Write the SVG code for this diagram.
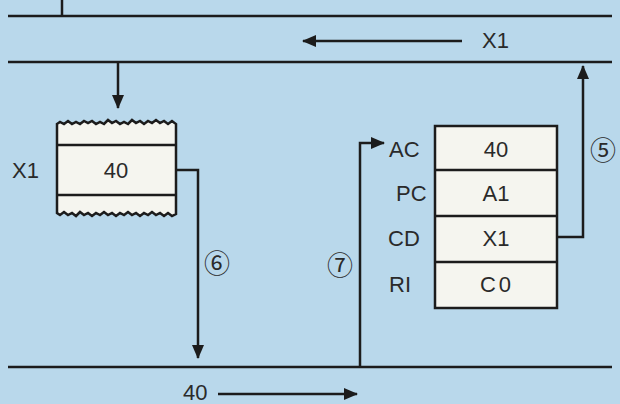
<svg xmlns="http://www.w3.org/2000/svg" width="620" height="404" viewBox="0 0 620 404">
<style>
.ln{stroke:#1c1c1c;stroke-width:2.5;fill:none}
.box{fill:#f5f5ef;stroke:#1c1c1c;stroke-width:2.5}
.t{font-family:"Liberation Sans",Arial,sans-serif;font-size:22px;fill:#2a2a2a}
.c{font-family:"Noto Sans CJK JP","DejaVu Sans",sans-serif;font-size:26px;fill:#2a2a2a}
</style>
<defs>
<marker id="ah" markerUnits="userSpaceOnUse" markerWidth="14" markerHeight="12" refX="13" refY="6" orient="auto">
<path d="M0,0 L14,6 L0,12 Z" fill="#1c1c1c"/>
</marker>
</defs>
<rect width="620" height="404" fill="#b9d8eb"/>
<g id="buses">
<line class="ln" x1="8" y1="16" x2="612" y2="16"/>
<line class="ln" x1="62" y1="0" x2="62" y2="16"/>
<line class="ln" x1="8" y1="62" x2="612" y2="62"/>
<line class="ln" x1="8" y1="367" x2="612" y2="367"/>
</g>
<g id="memory">
<path class="box" d="M57,124 L60,122 L64,124 L68,121 L72,124 L76,122 L80,124 L84,121 L88,123 L92,121 L96,124 L100,122 L104,124 L108,120 L112,123 L116,121 L120,124 L124,122 L128,124 L132,120 L136,123 L140,121 L144,124 L148,121 L152,123 L156,120 L160,123 L164,121 L168,124 L172,121 L176,124 L176,214 L172,216 L168,213 L164,216 L160,213 L156,215 L152,212 L148,215 L144,213 L140,216 L136,213 L132,215 L128,212 L124,215 L120,213 L116,216 L112,213 L108,215 L104,212 L100,215 L96,213 L92,216 L88,213 L84,215 L80,212 L76,216 L72,213 L68,215 L64,212 L60,215 L57,213 Z"/>
<line class="ln" x1="57" y1="145" x2="176" y2="145"/>
<line class="ln" x1="57" y1="195" x2="176" y2="195"/>
<text class="t" x="116" y="178" text-anchor="middle">40</text>
<text class="t" x="12" y="178">X1</text>
</g>
<g id="registers">
<rect class="box" x="435" y="126" width="122" height="182"/>
<line class="ln" x1="435" y1="170" x2="557" y2="170"/>
<line class="ln" x1="435" y1="216" x2="557" y2="216"/>
<line class="ln" x1="435" y1="262" x2="557" y2="262"/>
<text class="t" x="496" y="157" text-anchor="middle">40</text>
<text class="t" x="496" y="201" text-anchor="middle">A1</text>
<text class="t" x="496" y="246" text-anchor="middle">X1</text>
<text class="t" x="497" y="292" text-anchor="middle" letter-spacing="3">C0</text>
<text class="t" x="389" y="157">AC</text>
<text class="t" x="396" y="201">PC</text>
<text class="t" x="388" y="246">CD</text>
<text class="t" x="389" y="292">RI</text>
</g>
<g id="connectors">
<line class="ln" x1="462" y1="41" x2="303" y2="41" marker-end="url(#ah)"/>
<line class="ln" x1="118" y1="62" x2="118" y2="108" marker-end="url(#ah)"/>
<polyline class="ln" points="176,170 198,170 198,358" marker-end="url(#ah)"/>
<polyline class="ln" points="557,237 583,237 583,66" marker-end="url(#ah)"/>
<polyline class="ln" points="360,367 360,143 384,143" marker-end="url(#ah)"/>
<line class="ln" x1="218" y1="394" x2="357" y2="394" marker-end="url(#ah)"/>
</g>
<g id="labels">
<text class="t" x="482" y="48">X1</text>
<text class="t" x="183" y="400">40</text>
<text class="c" x="217" y="273" text-anchor="middle">⑥</text>
<text class="c" x="340" y="275" text-anchor="middle">⑦</text>
<text class="c" x="603" y="160" text-anchor="middle">⑤</text>
</g>
</svg>
